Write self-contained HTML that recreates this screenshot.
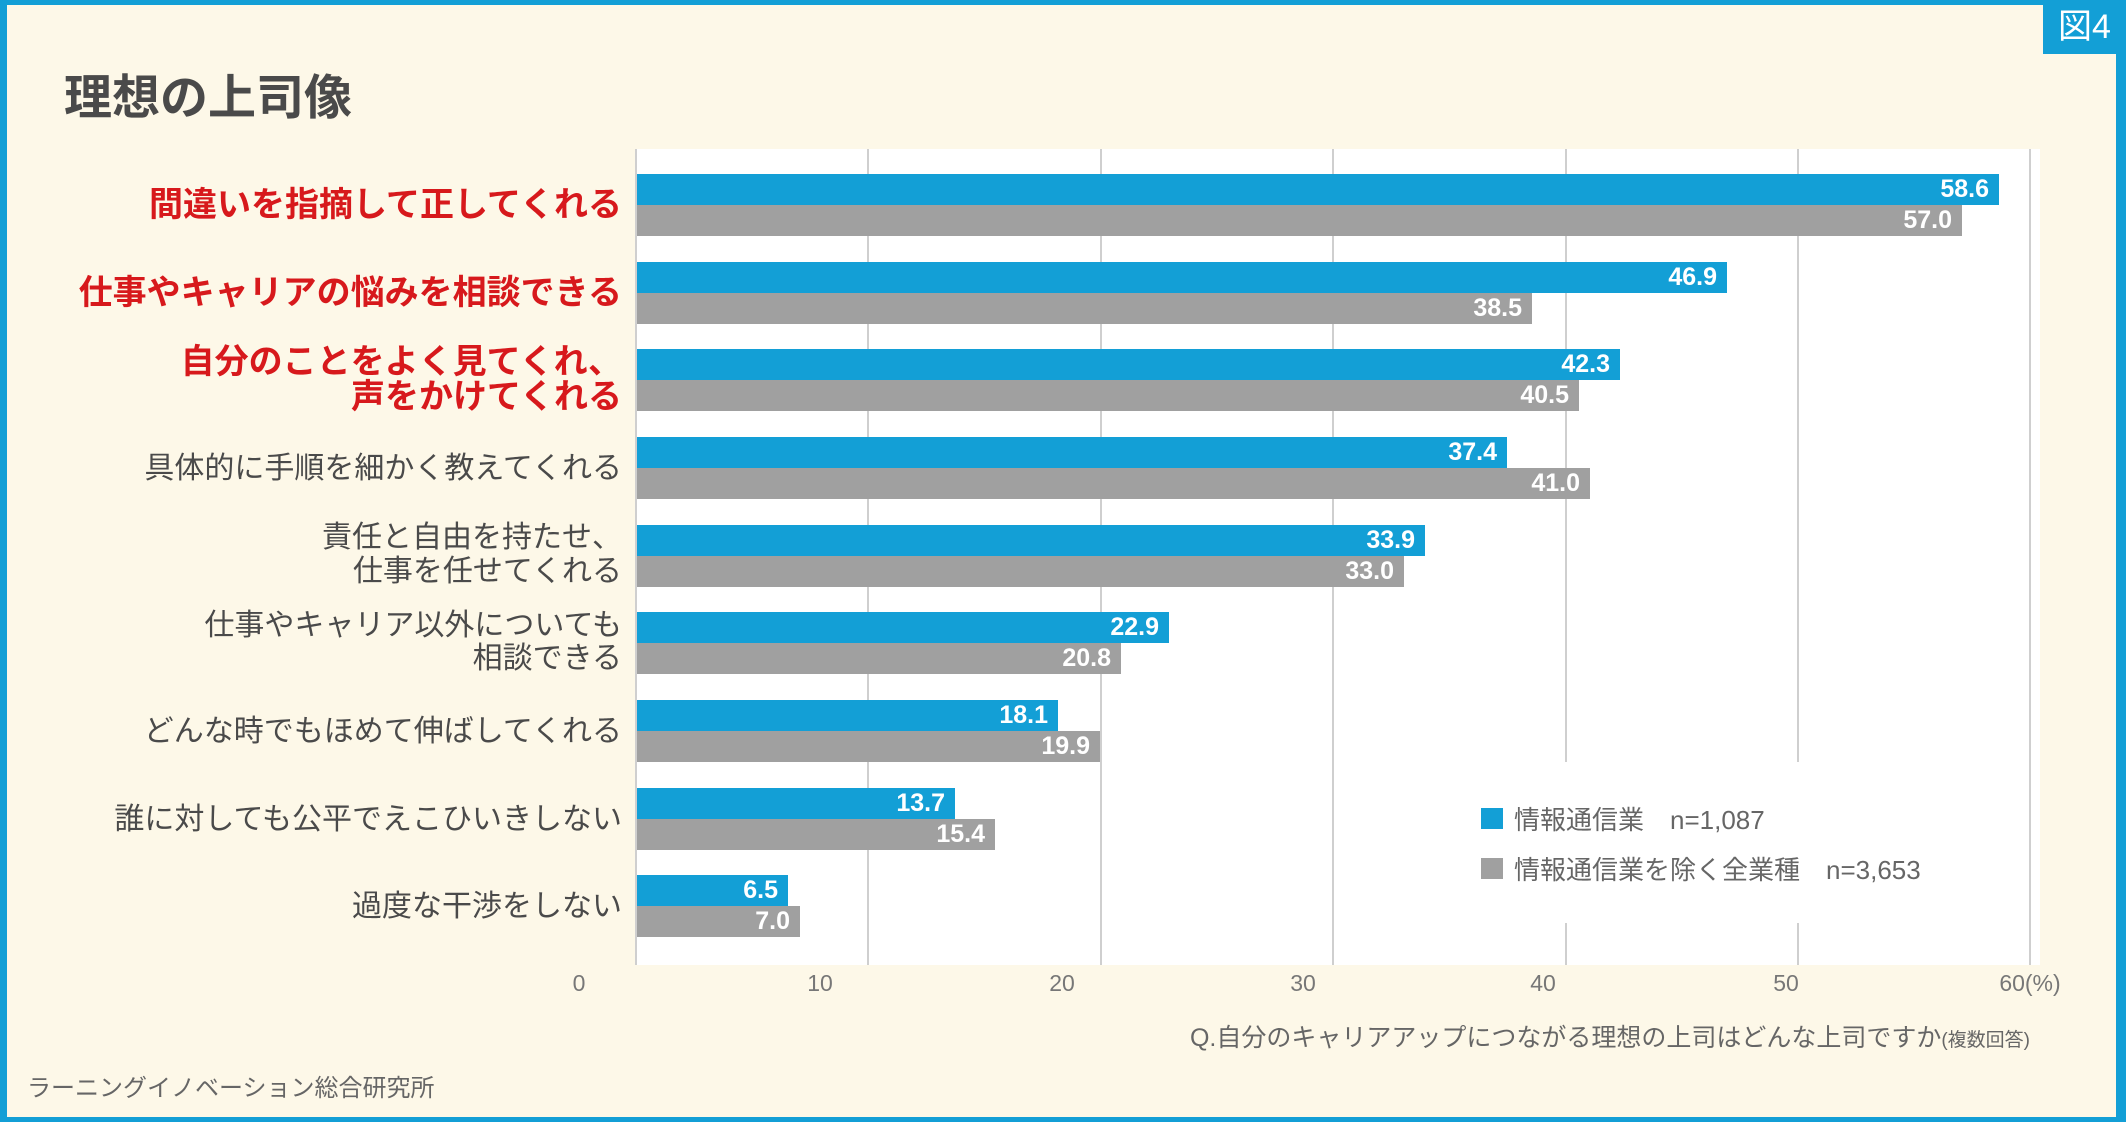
<!DOCTYPE html>
<html><head><meta charset="utf-8"><style>
*{margin:0;padding:0;box-sizing:border-box}
body{width:2126px;height:1122px;background:#139fd6;position:relative;overflow:hidden;font-family:"Liberation Sans","Noto Sans CJK JP",sans-serif}
.bg{position:absolute;left:7px;top:5px;right:10px;bottom:5px;background:#fdf8e8}
.a{position:absolute}
.plot{position:absolute;left:636px;top:149px;width:1404px;height:816px;background:#fff}
.g{position:absolute;top:149px;height:816px;width:2px;background:#cfcfcf}
.bar{position:absolute;height:31px;color:#fff;font-weight:bold;font-size:25px;line-height:31px;text-align:right;padding-right:10px}
.b{background:#139fd6}.c{background:#a0a0a0}
.lab{position:absolute;right:1504px;font-size:30px;line-height:31px;color:#4a4a4a;white-space:nowrap;text-align:right}
.red{color:#d7191c;font-weight:bold;font-size:34px}
.tk{position:absolute;top:970px;font-size:23px;color:#777;width:120px;text-align:center;margin-left:-60px}
</style></head><body>
<div class="bg"></div>
<div class="a" style="left:2043px;top:0;width:83px;height:54px;background:#139fd6;color:#fff;font-size:34px;line-height:54px;text-align:center">図4</div>
<div class="a" style="left:64px;top:58px;font-size:48px;font-weight:bold;color:#4a4a4a">理想の上司像</div>
<div class="plot"></div>
<div class="g" style="left:635px"></div>
<div class="g" style="left:867px"></div>
<div class="g" style="left:1100px"></div>
<div class="g" style="left:1332px"></div>
<div class="g" style="left:1565px"></div>
<div class="g" style="left:1797px"></div>
<div class="g" style="left:2029px"></div>
<div class="a" style="left:1460px;top:762px;width:560px;height:161px;background:#fff"></div>
<div class="a" style="left:1481px;top:808px;width:22px;height:21px;background:#139fd6"></div>
<div class="a" style="left:1481px;top:858px;width:22px;height:21px;background:#a0a0a0"></div>
<div class="a" style="left:1514px;top:800px;font-size:26px;color:#666;white-space:pre">情報通信業　n=1,087</div>
<div class="a" style="left:1514px;top:850px;font-size:26px;color:#666;white-space:pre">情報通信業を除く全業種　n=3,653</div>

<div class="bar b" style="left:637px;top:174px;width:1362px">58.6</div>
<div class="bar c" style="left:637px;top:205px;width:1325px">57.0</div>
<div class="bar b" style="left:637px;top:262px;width:1090px">46.9</div>
<div class="bar c" style="left:637px;top:293px;width:895px">38.5</div>
<div class="bar b" style="left:637px;top:349px;width:983px">42.3</div>
<div class="bar c" style="left:637px;top:380px;width:942px">40.5</div>
<div class="bar b" style="left:637px;top:437px;width:870px">37.4</div>
<div class="bar c" style="left:637px;top:468px;width:953px">41.0</div>
<div class="bar b" style="left:637px;top:525px;width:788px">33.9</div>
<div class="bar c" style="left:637px;top:556px;width:767px">33.0</div>
<div class="bar b" style="left:637px;top:612px;width:532px">22.9</div>
<div class="bar c" style="left:637px;top:643px;width:484px">20.8</div>
<div class="bar b" style="left:637px;top:700px;width:421px">18.1</div>
<div class="bar c" style="left:637px;top:731px;width:463px">19.9</div>
<div class="bar b" style="left:637px;top:788px;width:318px">13.7</div>
<div class="bar c" style="left:637px;top:819px;width:358px">15.4</div>
<div class="bar b" style="left:637px;top:875px;width:151px">6.5</div>
<div class="bar c" style="left:637px;top:906px;width:163px">7.0</div>

<div class="lab red" style="top:190px">間違いを指摘して正してくれる</div>
<div class="lab red" style="top:278px">仕事やキャリアの悩みを相談できる</div>
<div class="lab red" style="top:347px">自分のことをよく見てくれ、</div>
<div class="lab red" style="top:382px">声をかけてくれる</div>
<div class="lab" style="top:453px">具体的に手順を細かく教えてくれる</div>
<div class="lab" style="top:522px">責任と自由を持たせ、</div>
<div class="lab" style="top:556px">仕事を任せてくれる</div>
<div class="lab" style="top:610px">仕事やキャリア以外についても</div>
<div class="lab" style="top:643px">相談できる</div>
<div class="lab" style="top:716px">どんな時でもほめて伸ばしてくれる</div>
<div class="lab" style="top:804px">誰に対しても公平でえこひいきしない</div>
<div class="lab" style="top:891px">過度な干渉をしない</div>

<div class="tk" style="left:579px">0</div>
<div class="tk" style="left:820px">10</div>
<div class="tk" style="left:1062px">20</div>
<div class="tk" style="left:1303px">30</div>
<div class="tk" style="left:1543px">40</div>
<div class="tk" style="left:1786px">50</div>
<div class="tk" style="left:2030px">60(%)</div>
<div class="a" style="right:96px;top:1018px;font-size:25px;color:#666;white-space:nowrap">Q.自分のキャリアアップにつながる理想の上司はどんな上司ですか<span style="font-size:19px">(複数回答)</span></div>
<div class="a" style="left:27px;top:1068px;font-size:24px;color:#666">ラーニングイノベーション総合研究所</div>
</body></html>
